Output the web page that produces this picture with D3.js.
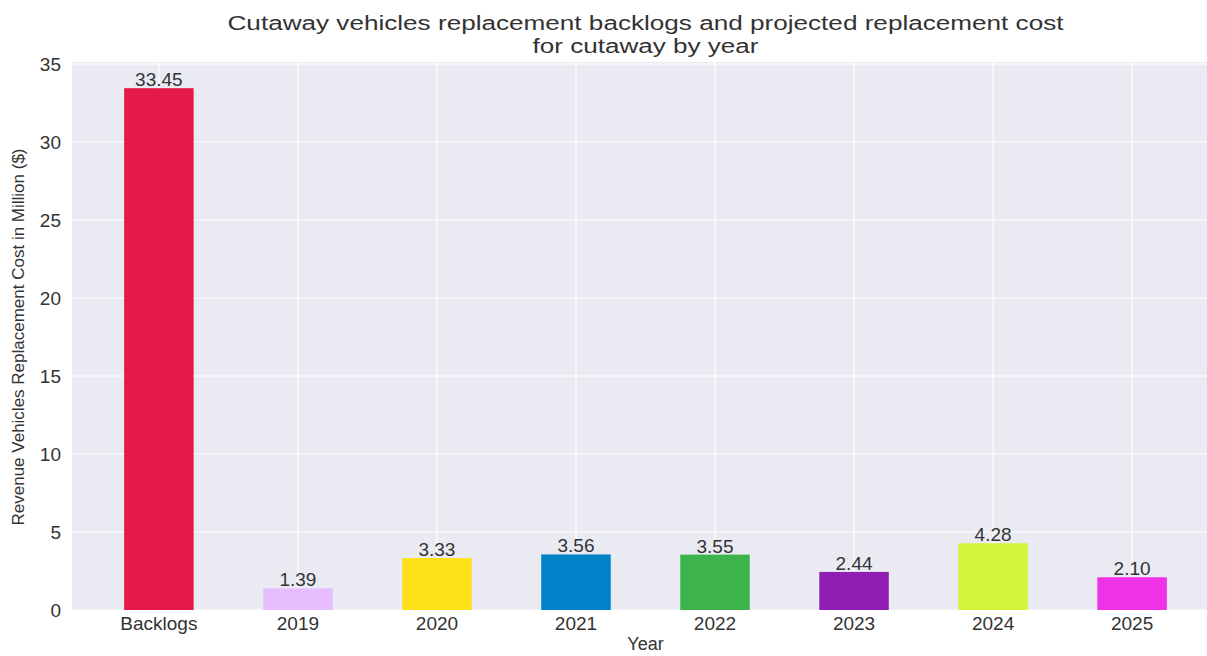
<html>
<head>
  <script src="https://d3js.org/d3.v7.min.js"></script>
  <style>
    body { margin: 0; background: #fff; font-family: "Liberation Sans", Arial, sans-serif; }
    text { fill: #333; }
  </style>
</head>
<body>
<svg id="chart" width="1207" height="656"></svg>
<script>
// data
const categories = ["Backlogs", "2019", "2020", "2021", "2022", "2023", "2024", "2025"];
const costs = [33.45, 1.39, 3.33, 3.56, 3.55, 2.44, 4.28, 2.10];
const barColors = ["#e6194b", "#e6beff", "#ffe119", "#0082c8", "#3cb44b", "#911eb4", "#d2f53c", "#f032e6"];
const yTicks = [0, 5, 10, 15, 20, 25, 30, 35];

let svg = d3.select("svg#chart");

const plot = { left: 72, right: 1219, top: 64, bottom: 610 };

const xScale = d3.scaleBand().domain(categories)
  .range([plot.left, plot.right])
  .paddingInner(0.5).paddingOuter(0.375);
const yScale = d3.scaleLinear().domain([0, 35]).range([plot.bottom, plot.top]);

// background
svg.append("rect")
  .attr("x", plot.left).attr("y", plot.top - 2)
  .attr("width", plot.right - plot.left).attr("height", plot.bottom - plot.top + 2)
  .attr("fill", "#eaeaf2");

// gridlines
let grid = svg.append("g").attr("class", "grid");
grid.selectAll("line.h").data(yTicks).join("line")
  .attr("class", "h")
  .attr("x1", plot.left).attr("x2", plot.right)
  .attr("y1", d => yScale(d)).attr("y2", d => yScale(d))
  .attr("stroke", "#fff").attr("stroke-width", 1.2);
grid.selectAll("line.v").data(categories).join("line")
  .attr("class", "v")
  .attr("x1", d => xScale(d) + xScale.bandwidth() / 2)
  .attr("x2", d => xScale(d) + xScale.bandwidth() / 2)
  .attr("y1", plot.top - 2).attr("y2", plot.bottom)
  .attr("stroke", "#fff").attr("stroke-width", 1.2);

// bars
const rows = categories.map((c, i) => ({ cat: c, value: costs[i], color: barColors[i] }));

svg.append("g").selectAll("rect.bar").data(rows).join("rect")
  .attr("class", "bar")
  .attr("x", d => xScale(d.cat))
  .attr("y", d => yScale(d.value))
  .attr("width", xScale.bandwidth())
  .attr("height", d => yScale(0) - yScale(d.value))
  .attr("fill", d => d.color);

// value labels
svg.append("g").selectAll("text.val").data(rows).join("text")
  .attr("class", "val")
  .attr("x", d => xScale(d.cat) + xScale.bandwidth() / 2)
  .attr("y", d => yScale(d.value) - 2)
  .attr("text-anchor", "middle")
  .style("font-size", "19px")
  .text(d => d.value.toFixed(2));

// axes
let yAxis = d3.axisLeft(yScale).tickValues(yTicks).tickSize(0).tickPadding(11);
svg.append("g").attr("transform", `translate(${plot.left},0)`).call(yAxis)
  .call(g => g.select(".domain").remove())
  .selectAll("text").style("font-size", "19px").attr("fill", "#333");

let xAxis = d3.axisBottom(xScale).tickSize(0).tickPadding(7);
svg.append("g").attr("transform", `translate(0,${plot.bottom})`).call(xAxis)
  .call(g => g.select(".domain").remove())
  .selectAll("text").style("font-size", "19px").attr("fill", "#333");

// axis titles
svg.append("text")
  .attr("x", (plot.left + plot.right) / 2).attr("y", 650)
  .attr("text-anchor", "middle")
  .style("font-size", "18px")
  .text("Year");

svg.append("text")
  .attr("transform", `translate(24,${(plot.top + plot.bottom) / 2}) rotate(-90)`)
  .attr("text-anchor", "middle")
  .style("font-size", "17px")
  .text("Revenue Vehicles Replacement Cost in Million ($)");

// title (the original is drawn a bit wider than the font, so stretch it)
const titleLines = [
  { text: "Cutaway vehicles replacement backlogs and projected replacement cost", y: 30, len: 836 },
  { text: "for cutaway by year", y: 53, len: 226 }
];
svg.selectAll("text.title").data(titleLines).join("text")
  .attr("class", "title")
  .attr("x", (plot.left + plot.right) / 2)
  .attr("y", d => d.y)
  .attr("text-anchor", "middle")
  .attr("textLength", d => d.len)
  .attr("lengthAdjust", "spacingAndGlyphs")
  .style("font-size", "20px")
  .text(d => d.text);
</script>
</body>
</html>
